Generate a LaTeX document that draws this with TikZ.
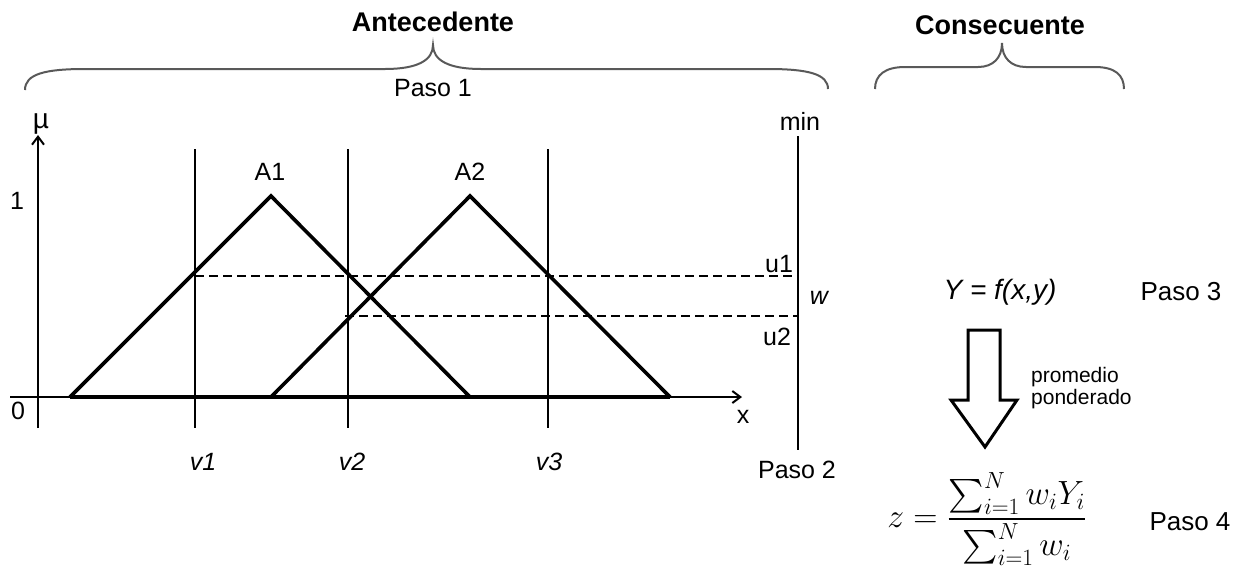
\documentclass[tikz,border=0pt]{standalone}
\usepackage{amsmath}
\usepackage{fontspec}
\setmainfont{Liberation Sans}
\usetikzlibrary{arrows.meta}
\begin{document}
\begin{tikzpicture}[x=1pt,y=-1pt,
  lbl/.style={font=\fontsize{25}{30}\selectfont, inner sep=0pt},
  ilbl/.style={font=\fontsize{25}{30}\selectfont\itshape, inner sep=0pt},
  head/.style={font=\fontsize{27}{32}\selectfont\bfseries, inner sep=0pt},
  small/.style={font=\fontsize{21}{25}\selectfont, inner sep=0pt, align=left},
  axis/.style={line width=2pt, -{Straight Barb[length=8pt,width=12pt,line width=2pt]}},
  memb/.style={line width=3.6pt, line join=miter},
  vline/.style={line width=1.5pt},
  dline/.style={line width=1.3pt, dash pattern=on 9pt off 5pt},
  brace/.style={line width=2pt, draw=black!65},
  blockarrow/.style={line width=3pt, line join=miter, fill=white}]
\useasboundingbox (0,0) rectangle (1245,571);

% coordinates
\coordinate (yb) at (38,428);
\coordinate (yt) at (38,135);
\coordinate (xl) at (10,397);
\coordinate (xr) at (742,397);
\coordinate (a1l) at (70,397);
\coordinate (a1p) at (271,196);
\coordinate (a1r) at (470,397);
\coordinate (a2l) at (271,397);
\coordinate (a2p) at (470,196);
\coordinate (a2r) at (670,397);
\coordinate (v1t) at (195,149); \coordinate (v1b) at (195,428);
\coordinate (v2t) at (348,149); \coordinate (v2b) at (348,428);
\coordinate (v3t) at (548,149); \coordinate (v3b) at (548,428);
\coordinate (mint) at (798,136); \coordinate (minb) at (798,450);
\coordinate (u1s) at (195,276); \coordinate (u1e) at (798,276);
\coordinate (u2s) at (345,316); \coordinate (u2e) at (798,316);

% axes
\draw[axis] (yb) -- (yt);
\draw[axis] (xl) -- (xr);

% vertical lines
\draw[vline] (v1t) -- (v1b);
\draw[vline] (v2t) -- (v2b);
\draw[vline] (v3t) -- (v3b);
\draw[vline] (mint) -- (minb);

% dashed lines
\draw[dline] (u1s) -- (u1e);
\draw[dline] (u2s) -- (u2e);

% membership functions
\draw[memb] (a1l) -- (a1p) -- (a1r);
\draw[memb] (a2l) -- (a2p) -- (a2r);
\draw[memb] (a1l) -- (a2r);

% braces
\draw[brace] (25,90) .. controls (25,74) and (45,69) .. (85,69) -- (385,69)
  .. controls (418,69) and (433,60) .. (433,45)
  .. controls (433,60) and (448,69) .. (481,69) -- (768,69)
  .. controls (808,69) and (828,74) .. (828,89);
\draw[brace] (875,89) .. controls (875,75) and (885,67) .. (905,67) -- (978,67)
  .. controls (993,67) and (1002,58) .. (1002,43)
  .. controls (1002,58) and (1011,67) .. (1026,67) -- (1095,67)
  .. controls (1115,67) and (1124,75) .. (1124,89);

% labels
\node[head] (ant) at (433,22) {Antecedente};
\node[head] (con) at (1000,25) {Consecuente};
\node[lbl] (p1) at (433,88) {Paso 1};
\node[lbl, font=\fontsize{28}{30}\selectfont] (mu) at (41,124) {µ};
\node[lbl] (one) at (17,201) {1};
\node[lbl] (zero) at (18,411) {0};
\node[lbl] (xlab) at (743,417) {x};
\node[lbl] (A1) at (270,172) {A1};
\node[lbl] (A2) at (470,172) {A2};
\node[ilbl] (v1) at (203,462) {v1};
\node[ilbl] (v2) at (352,462) {v2};
\node[ilbl] (v3) at (549,462) {v3};
\node[lbl] (min) at (800,121) {min};
\node[lbl] (u1) at (779,264) {u1};
\node[lbl] (u2) at (777,337) {u2};
\node[ilbl] (w) at (819,298) {w};
\node[lbl] (p2) at (797,470) {Paso 2};
\node[ilbl, font=\fontsize{28}{30}\selectfont\itshape] (Y) at (1000,292) {Y = f(x,y)};
\node[lbl, font=\fontsize{26}{30}\selectfont] (p3) at (1181,292) {Paso 3};
\node[lbl, font=\fontsize{26}{30}\selectfont] (p4) at (1190,522) {Paso 4};
\node[small, anchor=west] (prom) at (1031,388) {promedio\\[-3pt]ponderado};
\node[inner sep=0pt, font=\fontsize{24}{28}\selectfont] (z) at (987,519)
  {\scalebox{1.35}{$z=\dfrac{\sum_{i=1}^{N} w_i Y_i}{\sum_{i=1}^{N} w_i}$}};

% block arrow
\draw[blockarrow] (968,330) -- (1000,330) -- (1000,400) -- (1017,400)
  -- (985,447) -- (951,400) -- (968,400) -- cycle;
\end{tikzpicture}
\end{document}
